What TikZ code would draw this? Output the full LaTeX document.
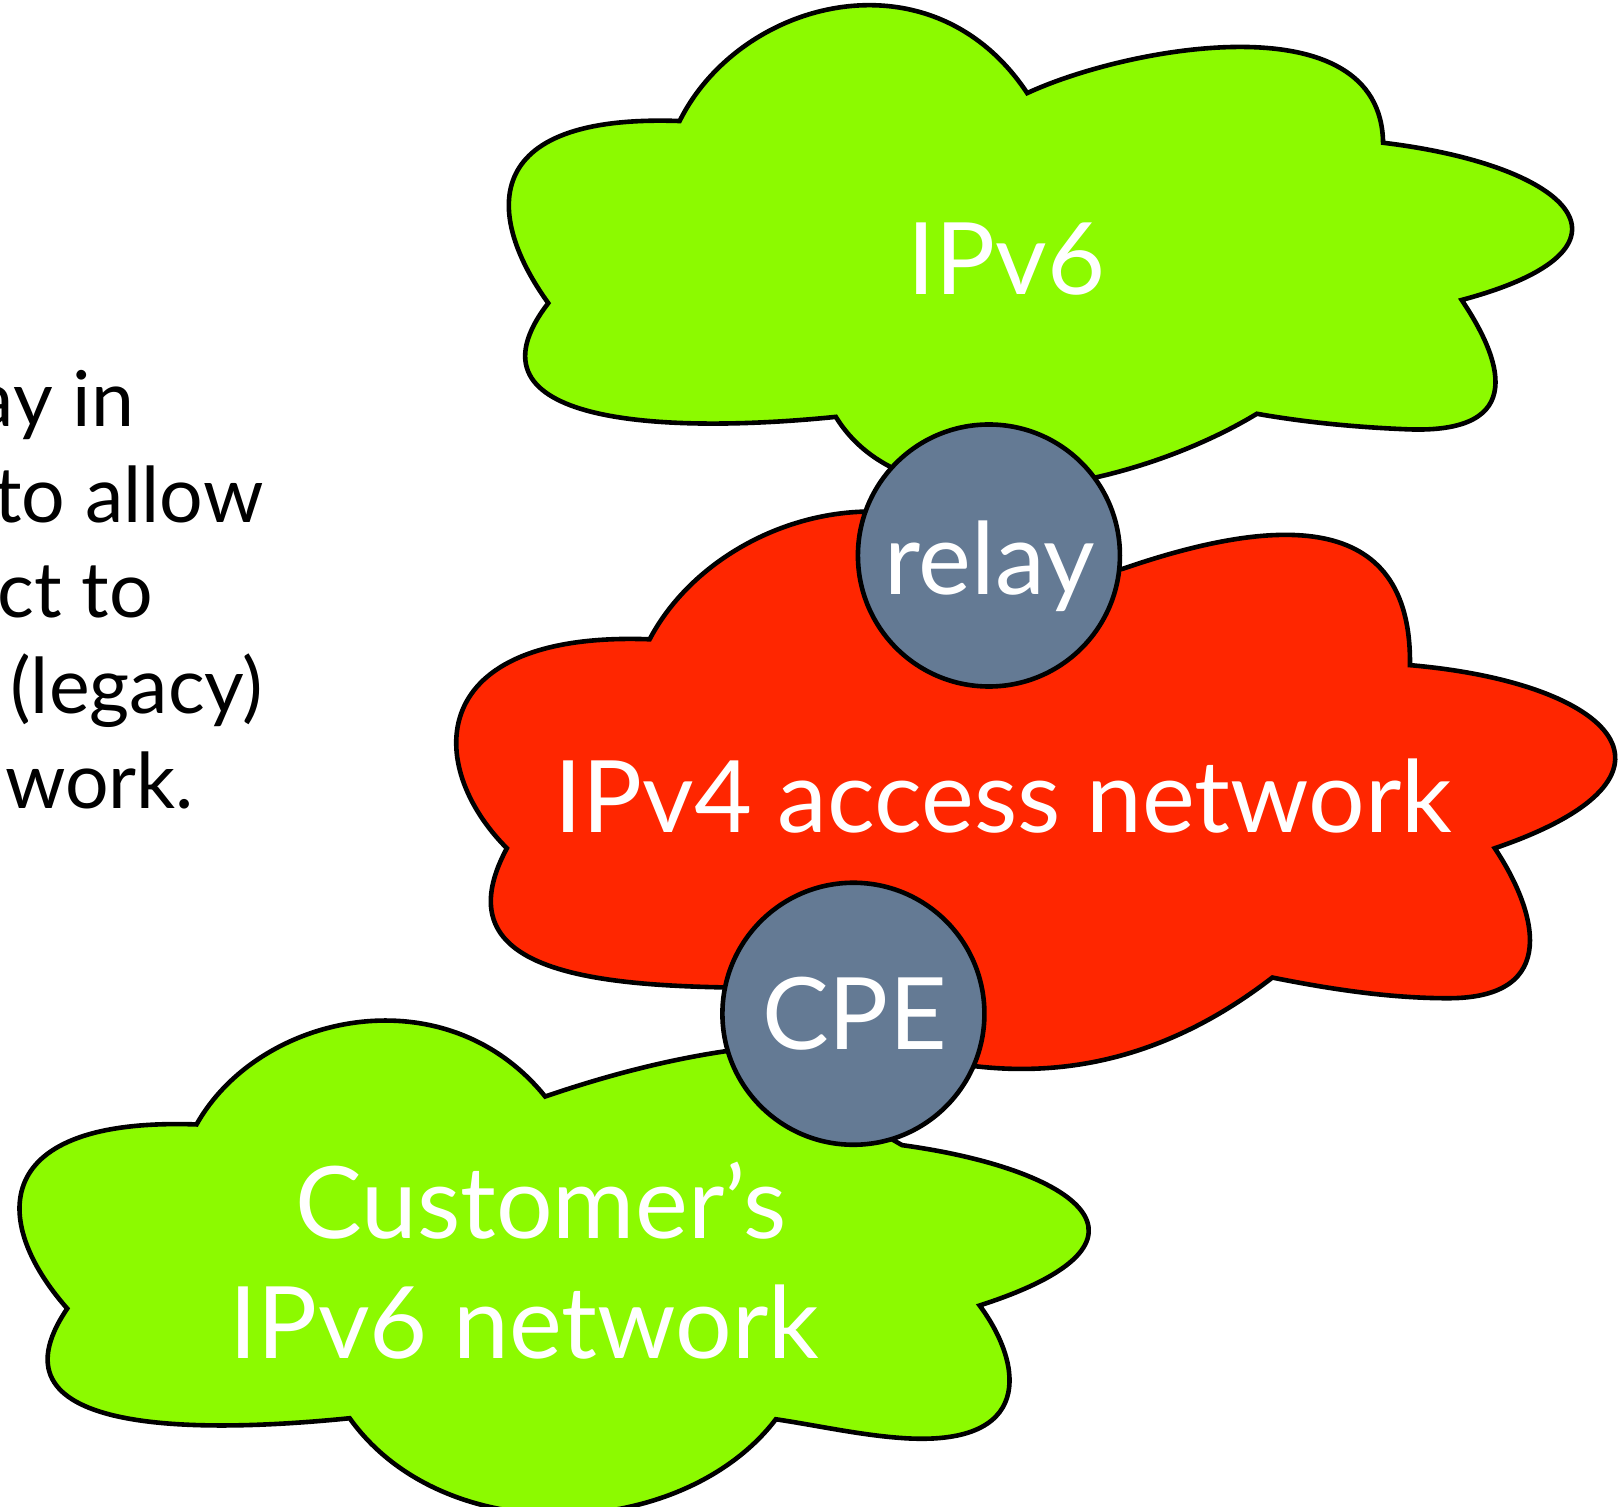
\documentclass[tikz,border=0pt]{standalone}
\usepackage{fontspec}
\setmainfont{Lato}
\definecolor{cloudgreen}{RGB}{140,250,0}
\definecolor{cloudred}{RGB}{255,38,0}
\definecolor{routerblue}{RGB}{100,122,148}
\tikzset{
  cloudline/.style={draw=black, line width=2.3pt, line join=miter},
  greencloud/.style={cloudline, fill=cloudgreen},
  redcloud/.style={cloudline, fill=cloudred},
  router/.style={circle, draw=black, line width=2.3pt, fill=routerblue, minimum size=131pt, inner sep=0pt},
  bigtext/.style={text=white, anchor=base, inner sep=0pt, font=\fontsize{50}{58}\selectfont},
  sidetext/.style={text=black, anchor=base east, inner sep=0pt, font=\fontsize{38.5}{46}\selectfont},
}
\begin{document}
\begin{tikzpicture}[x=0.5172pt, y=-0.5172pt]
\useasboundingbox (0,0) rectangle (1568,1456);
\clip (0,0) rectangle (1568,1456);
\fill[white] (0,0) rectangle (1568,1456);

% side text (cut off at the left edge)
\node[sidetext] (l1) at (130,412) {ay in};
\node[sidetext] (l2) at (255,505) {to allow};
\node[sidetext] (l3) at (148,597) {ct to};
\node[sidetext] (l4) at (255,690) {(legacy)};
\node[sidetext] (l5) at (188,782) {work.};

% top IPv6 cloud
\path[greencloud] (657,117) .. controls (715,0) and (900,-50) .. (993,90)
 .. controls (1090,45) and (1335,0) .. (1337,138)
 .. controls (1520,160) and (1600,240) .. (1413,290)
 .. controls (1450,345) and (1480,420) .. (1360,415)
 .. controls (1310,413) and (1260,408) .. (1215,400)
 .. controls (1100,470) and (880,520) .. (808,403)
 .. controls (640,420) and (440,410) .. (530,293)
 .. controls (470,210) and (460,110) .. (657,117) -- cycle;

% IPv4 access network cloud
\path[redcloud] (628,618) .. controls (690,500) and (880,440) .. (1000,560)
 -- (1085,550)
 .. controls (1230,500) and (1365,490) .. (1363,643)
 .. controls (1560,660) and (1650,750) .. (1445,820)
 .. controls (1485,880) and (1510,965) .. (1400,965)
 .. controls (1340,965) and (1280,955) .. (1230,945)
 .. controls (1120,1030) and (980,1070) .. (800,990)
 -- (760,955)
 .. controls (600,955) and (420,950) .. (490,820)
 .. controls (410,740) and (410,610) .. (628,618) -- cycle;

% customer's IPv6 cloud
\path[greencloud] (190,1087) .. controls (250,980) and (430,940) .. (527,1060)
 .. controls (600,1035) and (680,1015) .. (760,1010)
 -- (860,1100) -- (872,1107)
 .. controls (1040,1130) and (1140,1200) .. (947,1262)
 .. controls (990,1320) and (1000,1400) .. (870,1390)
 .. controls (830,1387) and (790,1378) .. (750,1372)
 .. controls (660,1490) and (430,1500) .. (338,1371)
 .. controls (200,1385) and (-20,1390) .. (65,1265)
 .. controls (-10,1180) and (-10,1080) .. (190,1087) -- cycle;

% routers
\node[router] (relay) at (956,537) {};
\node[router] (cpe) at (825,980) {};

% labels
\node[bigtext] (ipv6top) at (973,285) {IPv6};
\node[bigtext] (relaytext) at (957,575) {relay};
\node[bigtext] (ipv4text) at (970,805) {IPv4 access network};
\node[bigtext] (cpetext) at (826,1015) {CPE};
\node[bigtext] (custtext) at (523,1197) {Customer’s};
\node[bigtext] (custtext2) at (507,1313) {IPv6 network};
\end{tikzpicture}
\end{document}
